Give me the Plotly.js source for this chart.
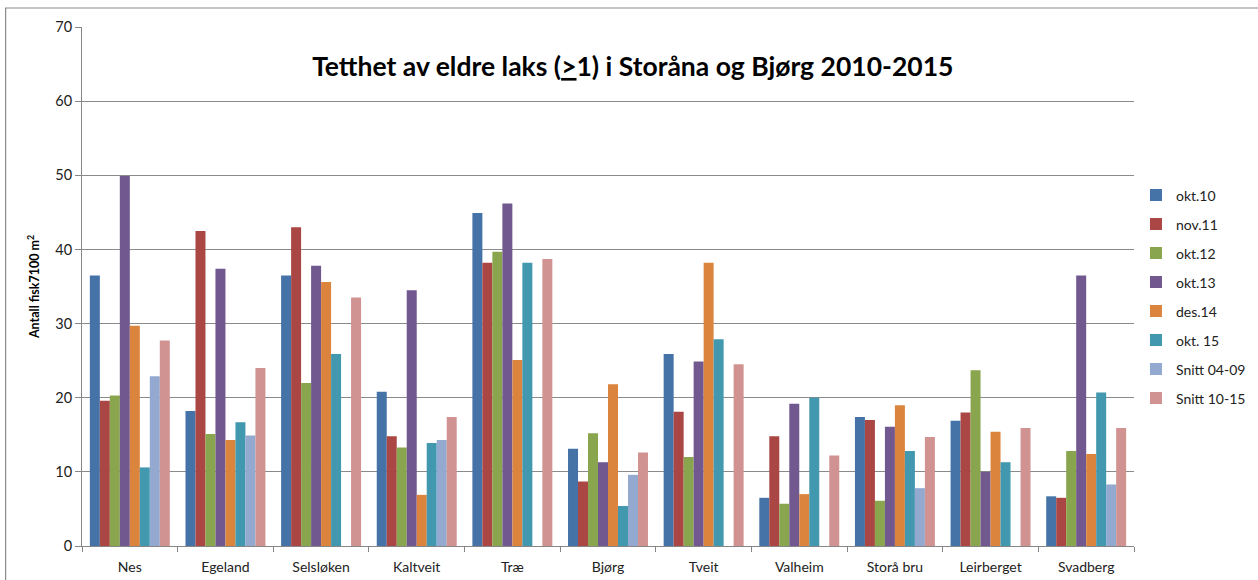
<!DOCTYPE html>
<html>
<head>
<meta charset="utf-8">
<script src="https://cdn.plot.ly/plotly-3.0.1.min.js"></script>
<style>html,body{margin:0;padding:0;background:#fff;}#chart{width:1258px;height:580px;}</style>
</head>
<body>
<div id="chart"></div>
<script>
const categories = ["Nes","Egeland","Selsløken","Kaltveit","Træ","Bjørg","Tveit","Valheim","Storå bru","Leirberget","Svadberg"];
const seriesNames = ["okt.10","nov.11","okt.12","okt.13","des.14","okt. 15","Snitt 04-09","Snitt 10-15"];
const okt10   = [36.5, 18.2, 36.5, 20.8, 44.9, 13.1, 25.9, 6.5, 17.4, 16.9, 6.7];
const nov11   = [19.6, 42.5, 43.0, 14.8, 38.2, 8.7, 18.1, 14.8, 17.0, 18.0, 6.5];
const okt12   = [20.3, 15.1, 22.0, 13.3, 39.7, 15.2, 12.0, 5.7, 6.1, 23.7, 12.8];
const okt13   = [49.9, 37.4, 37.8, 34.5, 46.2, 11.3, 24.9, 19.2, 16.1, 10.0, 36.5];
const des14   = [29.7, 14.3, 35.6, 6.9, 25.1, 21.8, 38.2, 7.0, 19.0, 15.4, 12.4];
const okt15   = [10.6, 16.7, 25.9, 13.9, 38.2, 5.4, 27.9, 20.0, 12.8, 11.3, 20.7];
const snitt0409 = [22.9, 14.9, null, 14.3, null, 9.6, null, null, 7.8, null, 8.3];
const snitt1015 = [27.7, 24.0, 33.5, 17.4, 38.7, 12.6, 24.5, 12.2, 14.7, 15.9, 15.9];
const colors = ["#4573A7","#AA4643","#89A54E","#71588F","#DB843D","#4198AF","#93A9CF","#D19392"];

const allSeries = [okt10, nov11, okt12, okt13, des14, okt15, snitt0409, snitt1015];
const traces = allSeries.map((vals, i) => ({
  type: "bar",
  name: seriesNames[i],
  x: categories,
  y: vals,
  legendgroup: "g" + i,
  marker: {color: colors[i], line: {width: 0}},
  hoverinfo: "x+y+name"
}));

const layout = {
  width: 1258,
  height: 580,
  paper_bgcolor: "#ffffff",
  plot_bgcolor: "#ffffff",
  margin: {l: 82, r: 124, t: 27, b: 34, pad: 0, autoexpand: false},
  barmode: "group",
  bargap: 0.164,
  bargroupgap: 0,
  font: {family: "Lato, 'Open Sans', sans-serif", size: 14, color: "#222"},
  title: {
    text: "<b>Tetthet av eldre laks (<u>></u>1) i Storåna og Bjørg 2010-2015</b>",
    font: {family: "Lato, 'Open Sans', sans-serif", size: 26.5, color: "#000"},
    x: 0.503, xref: "container", xanchor: "center",
    y: 0.885, yref: "container", yanchor: "middle"
  },
  xaxis: {
    type: "category",
    showline: true, linecolor: "#868686", linewidth: 1,
    ticks: "outside", tickson: "boundaries", ticklen: 5, tickcolor: "#868686",
    ticklabelstandoff: 8,
    showgrid: false,
    tickfont: {size: 14, color: "#222"},
    automargin: false
  },
  yaxis: {
    range: [0, 70],
    dtick: 10,
    showline: true, linecolor: "#868686", linewidth: 1,
    ticks: "outside", ticklen: 6, tickcolor: "#868686",
    showgrid: true, gridcolor: "#8a8a8a", gridwidth: 1,
    zeroline: false,
    tickfont: {size: 14.5, color: "#222"},
    title: {
      text: "<b>Antall fisk7100 m<sup>2</sup></b>",
      font: {size: 12.5, color: "#000"},
      standoff: 12
    },
    automargin: false
  },
  legend: {
    xref: "container", yref: "container",
    x: 0.903, xanchor: "left",
    y: 0.488, yanchor: "middle",
    font: {size: 14, color: "#222"},
    tracegroupgap: 7.8,
    itemwidth: 30,
    bgcolor: "rgba(0,0,0,0)"
  },
  shapes: [{
    type: "rect", xref: "paper", yref: "paper",
    x0: -0.0726, x1: 1.2, y0: -0.2, y1: 1.0366,
    line: {color: "#8a8a8a", width: 1.2}, fillcolor: "rgba(0,0,0,0)", layer: "below"
  }]
};

Plotly.newPlot("chart", traces, layout, {displayModeBar: false, staticPlot: true});
</script>
</body>
</html>
